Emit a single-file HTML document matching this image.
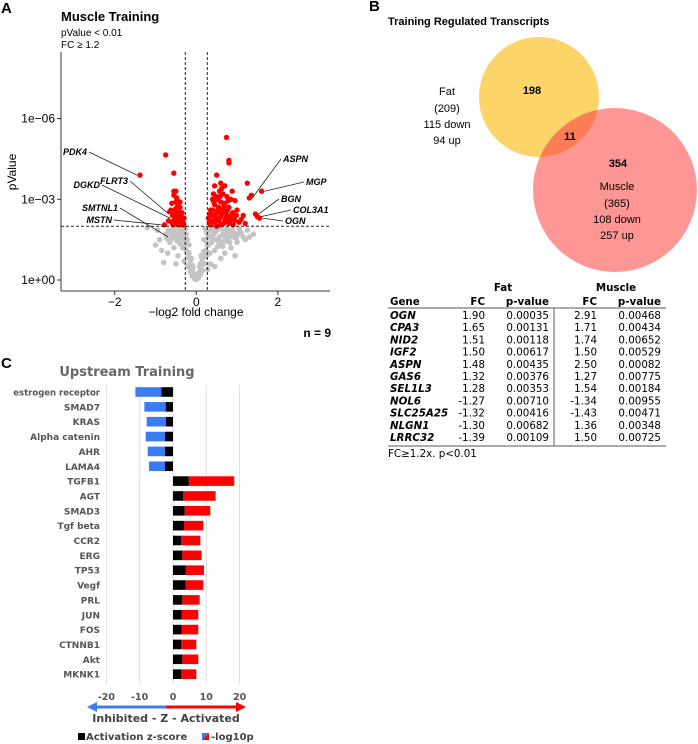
<!DOCTYPE html>
<html><head><meta charset="utf-8">
<style>
html,body{margin:0;padding:0;background:#fff;}
svg{display:block;font-family:"Liberation Sans",sans-serif;}
.v{font-family:"DejaVu Sans",sans-serif;}
</style></head>
<body>
<svg id="fig" width="698" height="744" viewBox="0 0 698 744">
  <g id="panelA">
    <text x="1" y="13" font-size="15" font-weight="bold">A</text>
    <text x="61" y="21" font-size="13" font-weight="bold">Muscle Training</text>
    <text x="61" y="36" font-size="10">pValue &lt; 0.01</text>
    <text x="61" y="48" font-size="10">FC ≥ 1.2</text>
    <g id="vplot"></g>
    <text x="16" y="172" font-size="12" transform="rotate(-90 16 172)" text-anchor="middle">pValue</text>
    <text x="196" y="316" font-size="12" text-anchor="middle">−log2 fold change</text>
    <text x="331" y="337" font-size="12" font-weight="bold" text-anchor="end">n = 9</text>
  </g>
  <g id="panelB">
    <text x="369" y="11" font-size="15" font-weight="bold">B</text>
    <text x="388" y="25" font-size="11" font-weight="bold">Training Regulated Transcripts</text>
    <circle cx="539" cy="97" r="60" fill="#fdd468"/>
    <circle cx="615" cy="190" r="82" fill="#ff9696"/>
    <clipPath id="fc"><circle cx="539" cy="97" r="60"/></clipPath>
    <circle cx="615" cy="190" r="82" fill="#fa7d55" clip-path="url(#fc)"/>
    <text x="532" y="94" font-size="11" font-weight="bold" text-anchor="middle">198</text>
    <text x="570" y="140" font-size="11" font-weight="bold" text-anchor="middle">11</text>
    <text x="618" y="167" font-size="11" font-weight="bold" text-anchor="middle">354</text>
    <g font-size="11" text-anchor="middle">
      <text x="447" y="95">Fat</text><text x="447" y="112">(209)</text><text x="447" y="128">115 down</text><text x="447" y="144">94 up</text>
    </g>
    <g font-size="11" text-anchor="middle">
      <text x="617" y="190">Muscle</text><text x="617" y="207">(365)</text><text x="617" y="223">108 down</text><text x="617" y="239">257 up</text>
    </g>
    <g id="table" class="v" font-size="10.3"></g>
  </g>
  <g id="panelC">
    <text x="1" y="368" font-size="15" font-weight="bold">C</text>
    <text x="127" y="376" font-size="13" font-weight="bold" fill="#666" text-anchor="middle" class="v">Upstream Training</text>
    <g id="bplot" class="v"></g>
  </g>
</svg>
<script>
const xTicks = [-2, 0, 2];
const yTicks = [0, 3, 6];
const yTickLabels = ["1e+00", "1e-03", "1e-06"];
const pThreshold = 2;
const fcThreshold = 0.27;
const redLeft = [[-1.38,3.9],[-0.75,4.65],[-0.55,3.97],[-0.78,2.05],[-0.55,3.3],[-0.55,3.15],[-0.5,2.9],[-0.6,2.85],[-0.45,2.8],[-0.62,2.6],[-0.5,2.65],[-0.4,2.7],[-0.58,2.4],[-0.48,2.45],[-0.35,2.5],[-0.65,2.55],[-0.45,2.3],[-0.55,2.2],[-0.38,2.25],[-0.5,2.1],[-0.42,2.05],[-0.33,2.15],[-0.6,2.15],[-0.3,2.3],[-0.4,2.9],[-0.48,3.05],[-0.35,2.1],[-0.68,2.2],[-0.52,2.55],[-0.44,2.6],[-0.36,2.35],[-0.46,2.15],[-0.53,2.35],[-0.41,2.5],[-0.31,2.05],[-0.57,2.05],[-0.5,3.3],[-0.47,2.7]];
const redRight = [[0.74,5.3],[0.8,4.45],[0.8,4.35],[1.25,3.6],[1.3,3.05],[1.35,3.15],[1.6,3.3],[1.45,2.45],[1.5,2.35],[1.55,2.3],[0.5,3.9],[0.6,3.6],[0.7,3.5],[0.45,3.5],[0.88,3.3],[0.57,3.3],[0.65,3.2],[0.75,3.1],[0.5,3.1],[0.4,3.0],[0.85,3.0],[0.95,2.95],[0.6,2.9],[0.7,2.85],[0.45,2.8],[0.55,2.7],[0.8,2.7],[1.0,2.6],[0.35,2.6],[0.65,2.6],[0.9,2.5],[0.5,2.5],[0.75,2.4],[0.4,2.4],[1.15,2.4],[0.6,2.35],[0.85,2.3],[0.3,2.3],[0.55,2.2],[0.7,2.2],[0.95,2.2],[1.05,2.15],[0.45,2.15],[0.35,2.05],[0.8,2.1],[0.6,2.05],[1.2,2.1],[0.9,2.05],[0.5,2.0],[0.4,2.6],[0.68,2.75],[0.52,3.0],[0.78,2.95],[0.62,3.4],[0.42,3.2],[0.58,2.5],[0.72,2.55],[0.98,2.4],[0.82,2.2],[0.33,2.45],[0.37,2.2],[0.47,2.35],[0.53,2.6],[0.63,2.45],[0.67,2.1],[0.73,2.3],[0.77,2.6],[0.87,2.45],[0.92,2.3],[1.1,2.25],[0.43,2.9],[0.58,3.1],[0.48,2.25],[0.32,2.15]];
const grey = [[-1.2,1.95],[-0.85,1.1],[-0.8,0.65],[-0.9,1.5],[-0.75,1.7],[-0.65,1.4],[-0.6,1.85],[-0.55,1.2],[-0.5,1.6],[-0.45,0.9],[-0.4,1.35],[-0.35,1.8],[-0.3,0.7],[-0.25,1.1],[-0.2,0.5],[-0.15,0.3],[-0.1,0.15],[-0.05,0.05],[0,0.02],[0.05,0.08],[0.1,0.2],[0.15,0.35],[0.2,0.6],[0.25,0.9],[0.3,1.3],[0.35,1.6],[0.4,1.85],[0.45,1.1],[0.5,1.5],[0.55,1.9],[0.6,1.3],[0.65,1.7],[0.7,1.0],[0.75,1.45],[0.8,1.85],[0.85,1.2],[0.9,1.6],[0.95,0.9],[1.0,1.4],[1.1,1.75],[1.2,1.5],[1.3,1.6],[1.4,1.7],[1.05,1.9],[0.35,0.6],[0.28,0.4],[-0.3,1.5],[-0.38,1.95],[-0.25,1.7],[-0.18,1.3],[0.18,1.5],[0.22,1.9],[0.6,0.8],[-0.5,0.6],[-0.7,1.0],[0.45,0.5],[0.12,0.9],[-0.12,0.8],[0.08,0.5],[-0.08,0.45],[0.75,1.9],[1.25,1.85],[-0.95,1.85],[-1.0,1.3],
[-0.02,0.1],[0.02,0.12],[-0.07,0.25],[0.07,0.28],[-0.12,0.4],[0.12,0.42],[-0.16,0.6],[0.16,0.62],[-0.2,0.85],[0.2,0.85],[-0.22,1.05],[0.23,1.1],[-0.26,1.35],[0.27,1.3],[-0.28,1.6],[0.29,1.6],[-0.3,1.85],[0.31,1.85],[-0.33,1.2],[0.33,1.0],[-0.36,1.55],[0.38,1.4],[-0.42,1.75],[0.42,1.7],[-0.47,1.45],[0.48,1.8],[-0.52,1.9],[0.52,1.25],[-0.58,1.55],[0.57,1.6],[-0.62,1.7],[0.63,1.9],[-0.68,1.85],[0.68,1.45],[0.72,1.75],[0.78,1.6],[0.82,1.4],[0.88,1.85],[0.93,1.75],[0.98,1.55],[1.02,1.7],[1.15,1.6],[-0.04,0.18],[0.04,0.2],[-0.1,0.55],[0.1,0.6],[-0.14,0.75],[0.14,0.8],[-0.18,1.0],[0.18,1.05],[-0.22,1.5],[0.24,1.45],[-0.27,1.9],[0.26,1.75],[-0.34,1.65],[0.36,1.9],[-0.4,1.6],[0.4,1.55],[-0.44,1.95],[0.44,1.95],[-0.55,1.75],[0.55,1.45],[0.65,1.25],[0.7,1.65],[-0.72,1.55],[0.85,1.7]];
const labels = [["PDK4",-1.38,3.9,87,155,"end"],["FLRT3",-0.6,2.45,128,184,"end"],["DGKD",-0.57,2.3,100,188,"end"],["SMTNL1",-0.62,1.6,118,211,"end"],["MSTN",-0.78,2.05,112,223,"end"],["ASPN",1.3,3.05,283,162,"start"],["MGP",1.6,3.3,306,185,"start"],["BGN",1.45,2.45,281,202,"start"],["COL3A1",1.5,2.35,293,213,"start"],["OGN",1.55,2.3,285,224,"start"]];

const NS="http://www.w3.org/2000/svg";
function mk(tag, attrs, parent){const e=document.createElementNS(NS,tag);for(const k in attrs)e.setAttribute(k,attrs[k]);parent.appendChild(e);return e;}
const vx = v => 196.3 + v*40.8;
const vy = v => 280 - v*26.9;
const vp = document.getElementById('vplot');
let ax = mk('line',{x1:61,y1:52,x2:61,y2:291,stroke:'#333','stroke-width':1},vp);


ax = mk('line',{x1:61,y1:291,x2:330,y2:291,stroke:'#333','stroke-width':1},vp);


xTicks.forEach(t=>{
  mk('line',{x1:vx(t),x2:vx(t),y1:291,y2:295,stroke:'#333'},vp);
  const tx=mk('text',{x:vx(t),y:306,'font-size':12,'text-anchor':'middle'},vp);
  tx.textContent = t<0 ? '−'+Math.abs(t) : String(t);
  
  
});
yTicks.forEach((t,i)=>{
  mk('line',{x1:57,x2:61,y1:vy(t),y2:vy(t),stroke:'#333'},vp);
  const tx=mk('text',{x:55,y:vy(t)+4,'font-size':12,'text-anchor':'end'},vp);
  tx.textContent = yTickLabels[i].replace('-','−');
  
  
});
grey.forEach(p=>{
  const c=mk('circle',{cx:vx(p[0]),cy:vy(p[1]),r:2.8,fill:'#c4c4c4'},vp);
  
  
});
redLeft.concat(redRight).forEach(p=>{
  const c=mk('circle',{cx:vx(p[0]),cy:vy(p[1]),r:2.7,fill:'#f00'},vp);
  
  
});
let dl=mk('line',{x1:61,x2:330,y1:vy(pThreshold),y2:vy(pThreshold),stroke:'#222','stroke-dasharray':'3,2'},vp);


[-fcThreshold,fcThreshold].forEach(f=>{
  const l=mk('line',{x1:vx(f),x2:vx(f),y1:52,y2:291,stroke:'#222','stroke-dasharray':'3,2'},vp);
  
  
});
labels.forEach(L=>{
  const px=vx(L[1]), py=vy(L[2]);
  const lx = L[5]==='end' ? L[3]+2 : L[3]-2;
  mk('line',{x1:lx,y1:L[4]-3,x2:px+(L[5]==='end'?-3:3),y2:py,stroke:'#222','stroke-width':0.8},vp);
  const t=mk('text',{x:L[3],y:L[4],'font-size':9,'font-weight':'bold','font-style':'italic','text-anchor':L[5]},vp);
  t.textContent=L[0];
  
  
});

const genes=["OGN","CPA3","NID2","IGF2","ASPN","GAS6","SEL1L3","NOL6","SLC25A25","NLGN1","LRRC32"];
const fatFC=["1.90","1.65","1.51","1.50","1.48","1.32","1.28","-1.27","-1.32","-1.30","-1.39"];
const fatP=["0.00035","0.00131","0.00118","0.00617","0.00435","0.00376","0.00353","0.00710","0.00416","0.00682","0.00109"];
const musFC=["2.91","1.71","1.74","1.50","2.50","1.27","1.54","-1.34","-1.43","1.36","1.50"];
const musP=["0.00468","0.00434","0.00652","0.00529","0.00082","0.00775","0.00184","0.00955","0.00471","0.00348","0.00725"];
const tb=document.getElementById('table');
function tt(x,y,s,anchor,bold,italic,name){const t=mk('text',{x:x,y:y,'text-anchor':anchor},tb);if(bold)t.setAttribute('font-weight','bold');if(italic)t.setAttribute('font-style','italic');t.textContent=s;return t;}
tt(503,291,"Fat","middle",true,false,"fat-header");
tt(616,291,"Muscle","middle",true,false,"muscle-header");
tt(390,305,"Gene","start",true,false,"gene-header");
tt(485,305,"FC","end",true,false,"fc-header");
tt(549,305,"p-value","end",true,false,"pvalue-header");
tt(597,305,"FC","end",true,false,"fc-header");
tt(661,305,"p-value","end",true,false,"pvalue-header");
mk('line',{x1:388,x2:666,y1:308,y2:308,stroke:'#777','stroke-width':1.2},tb);
mk('line',{x1:554,x2:554,y1:308,y2:446,stroke:'#777','stroke-width':1.2},tb);
mk('line',{x1:388,x2:666,y1:446,y2:446,stroke:'#777','stroke-width':1.2},tb);
genes.forEach((g,i)=>{
  const y=319+i*12.2;
  tt(390,y,g,"start",true,true,"gene-name");
  tt(485,y,fatFC[i],"end",false,false,"fat-fc");
  tt(549,y,fatP[i],"end",false,false,"fat-pvalue");
  tt(597,y,musFC[i],"end",false,false,"muscle-fc");
  tt(661,y,musP[i],"end",false,false,"muscle-pvalue");
});
tt(388,457,"FC≥1.2x. p<0.01","start",false,false,"table-footnote");

const regulators=["estrogen receptor","SMAD7","KRAS","Alpha catenin","AHR","LAMA4","TGFB1","AGT","SMAD3","Tgf beta","CCR2","ERG","TP53","Vegf","PRL","JUN","FOS","CTNNB1","Akt","MKNK1"];
const zScore=[-3.5,-2.2,-2.1,-2.4,-2.4,-2.4,4.7,3.0,3.5,3.3,2.4,2.8,3.8,3.8,2.8,2.6,2.6,2.4,2.8,2.4];
const negLog10p=[7.8,6.4,5.8,5.8,5.2,4.8,13.7,9.8,7.7,5.8,5.8,5.8,5.5,5.3,5.2,5.0,5.0,4.6,4.8,4.6];
const bTicks=[-20,-10,0,10,20];
const bx = v => 173 + v*3.33;
const by = i => 392 + i*14.85;
const bp=document.getElementById('bplot');
bTicks.forEach(t=>{
  const g=mk('line',{x1:bx(t),x2:bx(t),y1:385,y2:684,stroke:'#ddd','stroke-width':1},bp);
  
  
  const tx=mk('text',{x:bx(t),y:700,'font-size':9.5,'font-weight':'bold',fill:'#555','text-anchor':'middle'},bp);
  tx.textContent=String(t);
  
  
});
regulators.forEach((r,i)=>{
  const y=by(i), z=zScore[i], p=negLog10p[i], s=z<0?-1:1;
  const tot=z+s*p;
  const rb=mk('rect',{x:Math.min(bx(z),bx(tot)),y:y-4.8,width:Math.abs(bx(tot)-bx(z)),height:9.6,fill:z<0?'#3b7cf5':'#f00'},bp);
  
  
  const zb=mk('rect',{x:Math.min(bx(0),bx(z)),y:y-4.8,width:Math.abs(bx(z)-bx(0)),height:9.6,fill:'#000'},bp);
  
  
  const t=mk('text',{x:100,y:y+3.5,'font-size':i===0?8.5:9,'font-weight':'bold',fill:'#555','text-anchor':'end'},bp);
  t.textContent=r;
  
  
});
let a=mk('line',{x1:96,x2:167,y1:707,y2:707,stroke:'#3b7cf5','stroke-width':3},bp);


mk('polygon',{points:'87,707 97,702 97,712',fill:'#3b7cf5'},bp);
a=mk('line',{x1:166,x2:238,y1:707,y2:707,stroke:'#f00','stroke-width':3},bp);


mk('polygon',{points:'246,707 236,702 236,712',fill:'#f00'},bp);
a=mk('text',{x:166,y:722,'font-size':11,'font-weight':'bold',fill:'#444','text-anchor':'middle'},bp);
a.textContent='Inhibited - Z - Activated';


mk('rect',{x:78,y:733,width:7,height:7,fill:'#000'},bp);
a=mk('text',{x:86,y:740,'font-size':10,'font-weight':'bold',fill:'#444'},bp);
a.textContent='Activation z-score';


mk('polygon',{points:'202,733 209,733 202,740',fill:'#3b7cf5'},bp);
mk('polygon',{points:'209,733 209,740 202,740',fill:'#f00'},bp);
a=mk('text',{x:211,y:740,'font-size':10,'font-weight':'bold',fill:'#444'},bp);
a.textContent='-log10p';


</script>
</body></html>
